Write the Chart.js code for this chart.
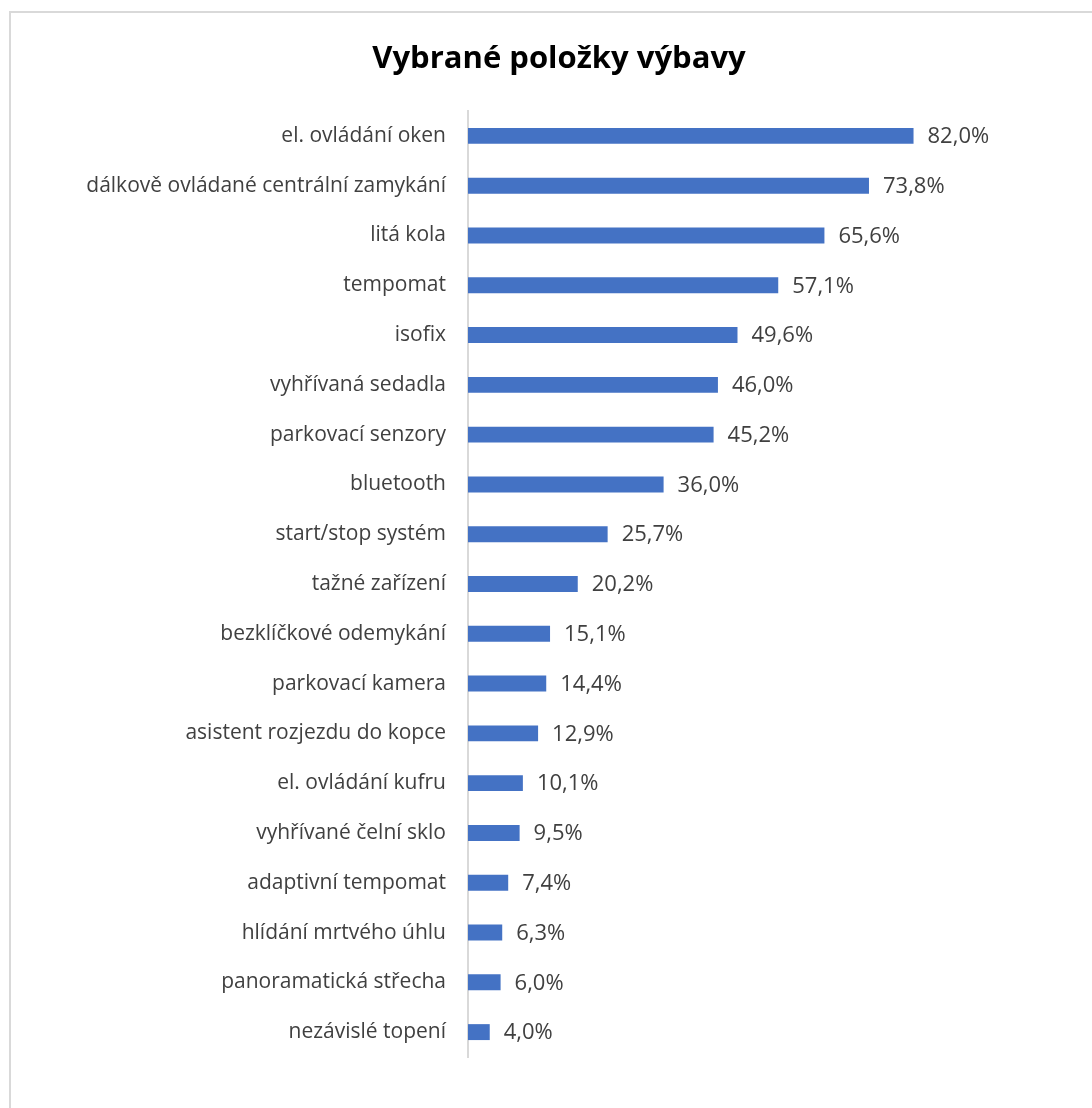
<!DOCTYPE html>
<html>
<head>
<meta charset="utf-8">
<script src="https://cdn.jsdelivr.net/npm/chart.js@4.4.1/dist/chart.umd.min.js"></script>
<style>
  html, body { margin: 0; padding: 0; background: #fff; }
  #wrap { position: relative; width: 1092px; height: 1108px; overflow: hidden; }
  #frame { position: absolute; left: 9px; top: 11px; width: 1200px; height: 1200px; border: 2px solid #d9d9d9; box-sizing: border-box; }
  #c { position: absolute; left: 0; top: 0; }
</style>
</head>
<body>
<div id="wrap">
  <div id="frame"></div>
  <canvas id="c" width="1092" height="1108"></canvas>
</div>
<script>
const titleText = 'Vybrané položky výbavy';
const categories = [
  'el. ovládání oken',
  'dálkově ovládané centrální zamykání',
  'litá kola',
  'tempomat',
  'isofix',
  'vyhřívaná sedadla',
  'parkovací senzory',
  'bluetooth',
  'start/stop systém',
  'tažné zařízení',
  'bezklíčkové odemykání',
  'parkovací kamera',
  'asistent rozjezdu do kopce',
  'el. ovládání kufru',
  'vyhřívané čelní sklo',
  'adaptivní tempomat',
  'hlídání mrtvého úhlu',
  'panoramatická střecha',
  'nezávislé topení'
];
const values = [82.0, 73.8, 65.6, 57.1, 49.6, 46.0, 45.2, 36.0, 25.7, 20.2, 15.1, 14.4, 12.9, 10.1, 9.5, 7.4, 6.3, 6.0, 4.0];
const axisMin = 0;
const axisMax = 90;

const FONT = "'Open Sans', 'Noto Sans', sans-serif";

const valueLabels = {
  id: 'valueLabels',
  afterDatasetsDraw(chart) {
    const ctx = chart.ctx;
    const meta = chart.getDatasetMeta(0);
    ctx.save();
    ctx.font = '22px ' + FONT;
    ctx.fillStyle = '#404040';
    ctx.textAlign = 'left';
    ctx.textBaseline = 'middle';
    meta.data.forEach((bar, i) => {
      const txt = values[i].toFixed(1).replace('.', ',') + '%';
      ctx.fillText(txt, bar.x + 14, bar.y + 1);
    });
    ctx.restore();
  }
};

const titleDraw = {
  id: 'titleDraw',
  afterDraw(chart) {
    const ctx = chart.ctx;
    ctx.save();
    ctx.font = 'bold 31px ' + FONT;
    ctx.fillStyle = '#000000';
    ctx.textAlign = 'center';
    ctx.textBaseline = 'alphabetic';
    ctx.fillText(titleText, 559, 68);
    ctx.restore();
  }
};

new Chart(document.getElementById('c'), {
  type: 'bar',
  data: {
    labels: categories,
    datasets: [{
      data: values,
      backgroundColor: '#4472C4',
      borderWidth: 0,
      categoryPercentage: 1.0,
      barPercentage: 0.32
    }]
  },
  options: {
    indexAxis: 'y',
    responsive: false,
    animation: false,
    layout: { padding: { left: 0, right: 135, top: 111, bottom: 51 } },
    plugins: {
      legend: { display: false },
      tooltip: { enabled: false },
      title: { display: false }
    },
    scales: {
      x: {
        display: false,
        min: axisMin,
        max: axisMax
      },
      y: {
        afterFit(scale) { scale.width = 468; },
        grid: { display: false, drawTicks: false },
        border: { display: true, color: '#d9d9d9', width: 2 },
        ticks: {
          color: '#404040',
          font: { family: FONT, size: 21 },
          padding: 22
        }
      }
    }
  },
  plugins: [valueLabels, titleDraw]
});
</script>
</body>
</html>
